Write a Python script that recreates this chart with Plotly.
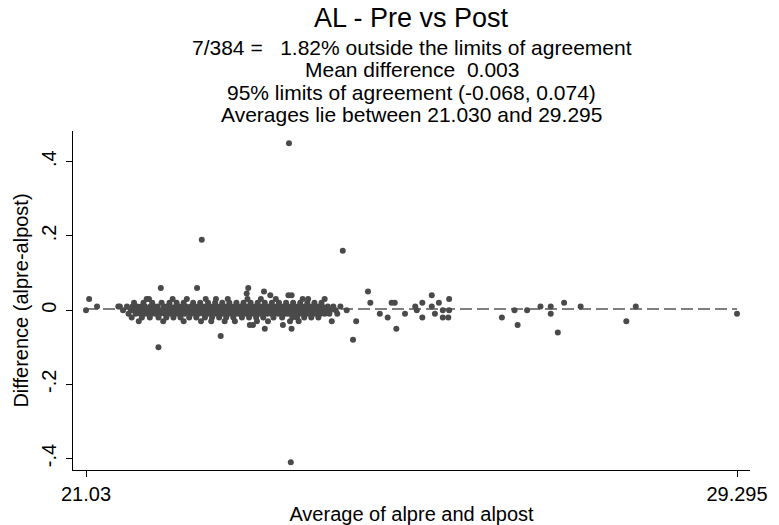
import plotly.graph_objects as go

# ---- data ----
mean_diff = 0.003
x_tick_vals = [21.03, 29.295]
x_tick_text = ["21.03", "29.295"]
y_tick_vals = [-0.4, -0.2, 0.0, 0.2, 0.4]
y_tick_text = ["-.4", "-.2", "0", ".2", ".4"]

# averages of points lying at each difference level inside the dense band
avg_d0 = [21.03, 21.50, 21.60, 21.64, 21.70, 21.75, 21.79, 21.83, 21.88, 21.92, 21.96, 22.00,
          22.04, 22.08, 22.12, 22.15, 22.19, 22.22, 22.26, 22.29, 22.32, 22.35, 22.38, 22.41,
          22.44, 22.47, 22.50, 22.53, 22.56, 22.59, 22.62, 22.65, 22.68, 22.71, 22.74, 22.77,
          22.80, 22.83, 22.86, 22.89, 22.92, 22.95, 22.98, 23.01, 23.04, 23.07, 23.10, 23.13,
          23.16, 23.19, 23.22, 23.25, 23.28, 23.31, 23.34, 23.37, 23.40, 23.43, 23.46, 23.49,
          23.52, 23.55, 23.58, 23.61, 23.64, 23.67, 23.70, 23.73, 23.76, 23.79, 23.82, 23.85,
          23.88, 23.91, 23.94, 23.97, 24.00, 24.04, 24.08, 24.13, 24.20, 24.34, 25.23, 25.56,
          25.64]
avg_p01 = [21.17, 21.44, 21.46, 21.55, 21.62, 21.68, 21.73, 21.78, 21.85, 21.90, 21.94, 22.02,
           22.06, 22.10, 22.17, 22.21, 22.25, 22.30, 22.36, 22.40, 22.45, 22.51, 22.55, 22.60,
           22.64, 22.69, 22.73, 22.78, 22.82, 22.87, 22.91, 22.96, 23.00, 23.05, 23.09, 23.14,
           23.18, 23.23, 23.27, 23.32, 23.36, 23.41, 23.45, 23.50, 23.54, 23.59, 23.63, 23.68,
           23.72, 23.77, 23.81, 23.86, 23.90, 23.95, 23.99, 24.03, 24.10, 24.17, 24.26, 25.21,
           25.42]
avg_m01 = [21.57, 21.66, 21.72, 21.77, 21.81, 21.86, 21.91, 21.97, 22.03, 22.07, 22.11, 22.16,
           22.20, 22.24, 22.28, 22.33, 22.37, 22.42, 22.46, 22.52, 22.57, 22.61, 22.66, 22.70,
           22.75, 22.79, 22.84, 22.88, 22.93, 22.97, 23.02, 23.06, 23.11, 23.15, 23.20, 23.24,
           23.29, 23.33, 23.38, 23.42, 23.47, 23.51, 23.56, 23.60, 23.65, 23.69, 23.74, 23.78,
           23.83, 23.87, 23.92, 23.96, 24.01, 24.06, 24.12, 24.22, 24.76, 25.08, 25.46]
avg_p02 = [21.64, 21.76, 21.87, 21.99, 22.09, 22.18, 22.27, 22.39, 22.48, 22.58, 22.67, 22.76,
           22.85, 22.94, 23.03, 23.12, 23.21, 23.30, 23.39, 23.48, 23.57, 23.66, 23.75, 23.84,
           23.93, 24.02, 24.64, 24.91, 24.95, 25.30, 25.51]
avg_m02 = [21.61, 21.74, 21.84, 21.95, 22.05, 22.14, 22.23, 22.34, 22.43, 22.54, 22.63, 22.72,
           22.81, 22.90, 23.01, 23.10, 23.19, 23.28, 23.41, 23.52, 23.65, 23.71, 23.80, 23.89,
           23.98, 24.86, 25.30, 25.56, 25.63]
avg_p03 = [21.07, 21.80, 21.83, 22.13, 22.31, 22.55, 22.68, 22.83, 23.08, 23.25, 23.44, 23.78,
           23.85, 24.06, 25.64]
avg_m03 = [21.70, 22.01, 22.27, 22.49, 22.62, 22.79, 22.92, 23.20, 23.34, 23.62, 23.73, 24.15,
           24.46]

# remaining scattered points (average, difference)
sparse_avg = [21.98, 21.95, 22.44, 22.50, 22.74, 23.07, 23.09, 23.11, 23.15, 23.29, 23.30,
              23.37, 23.53, 23.60, 23.64, 23.64, 23.607, 23.63, 24.29, 24.42, 24.61, 24.97,
              25.42, 26.31, 26.47, 26.51, 26.63, 26.80, 26.93, 26.93, 27.02, 27.10, 27.31,
              27.89, 28.01, 29.295]
sparse_diff = [0.06, -0.10, 0.06, 0.19, -0.07, 0.045, 0.06, -0.04, -0.04, 0.05, -0.05,
               0.04, -0.04, 0.04, 0.04, -0.05, 0.45, -0.41, 0.16, -0.08, 0.05, -0.05,
               0.04, -0.02, 0.00, -0.04, 0.00, 0.01, 0.01, -0.01, -0.06, 0.02, 0.01,
               -0.03, 0.01, -0.01]

band_groups = [(avg_d0, 0.0), (avg_p01, 0.01), (avg_m01, -0.01), (avg_p02, 0.02),
               (avg_m02, -0.02), (avg_p03, 0.03), (avg_m03, -0.03)]

all_avg, all_diff = [], []
for lst, d in band_groups:
    all_avg += lst
    all_diff += [d] * len(lst)
all_avg += sparse_avg
all_diff += sparse_diff

FONT = "Liberation Sans, Arial, Helvetica, sans-serif"
PT = "#4a4a4a"

fig = go.Figure()
fig.add_trace(go.Scatter(
    x=[min(all_avg), max(all_avg)], y=[mean_diff, mean_diff], mode="lines",
    line=dict(color="#555555", width=1.4, dash="12px,5px"), hoverinfo="skip",
    showlegend=False))
fig.add_trace(go.Scatter(
    x=all_avg, y=all_diff, mode="markers",
    marker=dict(color=PT, size=6, line=dict(width=0)), showlegend=False))

title_lines = [
    ("AL - Pre vs Post", 27, 1.333),
    ("7/384 =\u00a0\u00a0\u00a01.82% outside the limits of agreement", 21, 1.245),
    ("Mean difference\u00a0\u00a00.003", 21, 1.180),
    ("95% limits of agreement (-0.068, 0.074)", 21, 1.115),
    ("Averages lie between 21.030 and 29.295", 21, 1.050),
]
for txt, sz, yy in title_lines:
    fig.add_annotation(text=txt, xref="paper", yref="paper", x=0.5, y=yy,
                       xanchor="center", yanchor="middle", showarrow=False,
                       font=dict(family=FONT, size=sz, color="black"))

fig.update_layout(
    width=779, height=525,
    margin=dict(l=73, r=29, t=131, b=55, autoexpand=False),
    paper_bgcolor="white", plot_bgcolor="white",
    font=dict(family=FONT, color="black"),
    xaxis=dict(range=[20.865, 29.46], tickvals=x_tick_vals, ticktext=x_tick_text,
               showgrid=False, zeroline=False, showline=True, linecolor="#000000",
               linewidth=1, ticks="outside", ticklen=6, tickwidth=1, tickcolor="#000000",
               tickfont=dict(size=20, family=FONT),
               title=dict(text="Average of alpre and alpost", font=dict(size=20, family=FONT),
                          standoff=2),
               automargin=False),
    yaxis=dict(range=[-0.431, 0.483], tickvals=y_tick_vals, ticktext=y_tick_text,
               showgrid=False, zeroline=False, showline=True, linecolor="#000000",
               linewidth=1, ticks="outside", ticklen=6, tickwidth=1, tickcolor="#000000",
               tickangle=-90, tickfont=dict(size=20, family=FONT), ticklabelstandoff=2,
               title=dict(text="Difference (alpre-alpost)", font=dict(size=20, family=FONT),
                          standoff=4),
               automargin=False),
)

fig.write_html("out.html", config={"displayModeBar": False},
               post_script="document.body.style.margin='0px';document.body.style.overflow='hidden';")
